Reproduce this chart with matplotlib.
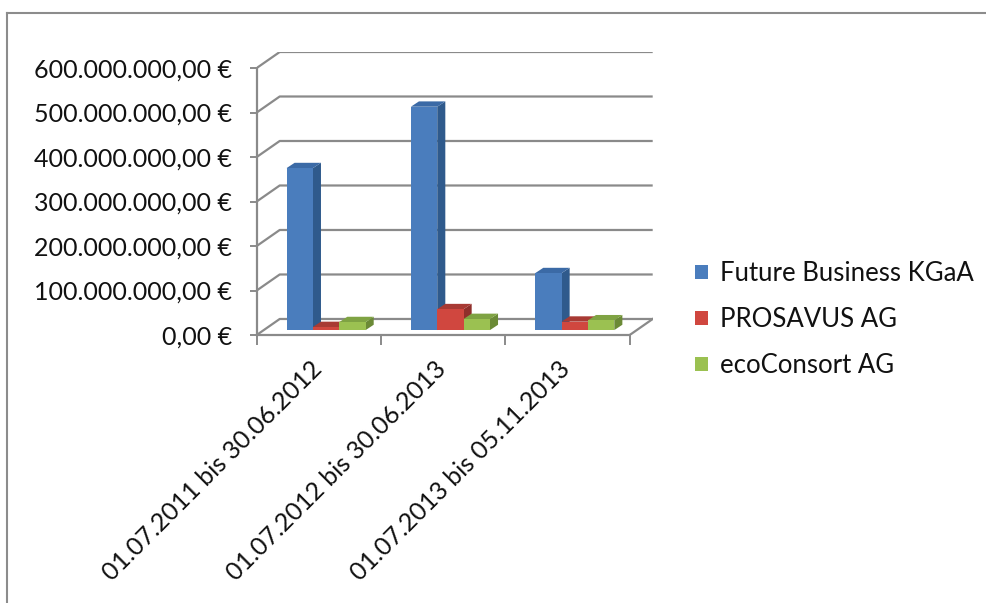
import matplotlib

matplotlib.use("Agg")
import matplotlib.pyplot as plt
import matplotlib.transforms as mtransforms
from matplotlib.lines import Line2D
from matplotlib.patches import Polygon, Rectangle

categories = ["01.07.2011 bis 30.06.2012", "01.07.2012 bis 30.06.2013", "01.07.2013 bis 05.11.2013"]
series_names = ["Future Business KGaA", "PROSAVUS AG", "ecoConsort AG"]
future_business = [364e6, 502e6, 128e6]
prosavus = [7e6, 47e6, 19e6]
ecoconsort = [18e6, 25e6, 22e6]
y_ticks = [0, 100e6, 200e6, 300e6, 400e6, 500e6, 600e6]
y_labels = ["0,00 €", "100.000.000,00 €", "200.000.000,00 €", "300.000.000,00 €",
            "400.000.000,00 €", "500.000.000,00 €", "600.000.000,00 €"]

# colours: front, side, top
colors = [
    ("#4a7dbd", "#2f5a8c", "#3b6aa6"),
    ("#d0473f", "#8f2f2b", "#a83a34"),
    ("#9bc151", "#6b8a36", "#7fa343"),
]

# fake 3D geometry in data units
wall_dx, wall_dy = 0.185, 36e6     # back wall offset
bar_dx, bar_dy = 0.065, 12e6        # bar depth
base_dx, base_dy = 0.0, 11e6        # bar base sits a bit behind the front
bar_w = 0.212
first_off = 0.24
grid_c = "#8a8a8a"
txt_c = "#111111"

plt.rcParams["font.family"] = ["Lato", "DejaVu Sans"]
fig = plt.figure(figsize=(9.86, 6.03), dpi=100)
W, H = 986, 603
ax = fig.add_axes([256.7 / W, (H - 335) / H, 396 / W, 283 / H])
ax.set_xlim(0, 3 + wall_dx)
ax.set_ylim(0, 600e6 + wall_dy)
ax.patch.set_visible(False)

# gridlines with side-wall diagonals
for v in y_ticks:
    ax.plot([0, wall_dx, 3 + wall_dx], [v, v + wall_dy, v + wall_dy],
            color=grid_c, lw=1.6, zorder=1, solid_capstyle="butt")
ax.plot([3, 3 + wall_dx], [0, wall_dy], color=grid_c, lw=1.6, zorder=1)

for s, vals in enumerate([future_business, prosavus, ecoconsort]):
    front, side, top = colors[s]
    for c, v in enumerate(vals):
        x0 = c + first_off + s * bar_w + base_dx
        y0 = base_dy
        z = 3 + s + c * 0.01
        ax.add_patch(Polygon([(x0 + bar_w, y0), (x0 + bar_w + bar_dx, y0 + bar_dy),
                              (x0 + bar_w + bar_dx, y0 + v + bar_dy), (x0 + bar_w, y0 + v)],
                             closed=True, facecolor=side, edgecolor="none", zorder=z))
        ax.add_patch(Polygon([(x0, y0 + v), (x0 + bar_dx, y0 + v + bar_dy),
                              (x0 + bar_w + bar_dx, y0 + v + bar_dy), (x0 + bar_w, y0 + v)],
                             closed=True, facecolor=top, edgecolor="none", zorder=z))
    xs = [c + first_off + s * bar_w + base_dx for c in range(3)]
    ax.bar(xs, vals, width=bar_w, bottom=base_dy, align="edge", color=front,
           edgecolor="none", zorder=3 + s + 0.05)

for sp in ["top", "right"]:
    ax.spines[sp].set_visible(False)
ax.spines["left"].set_bounds(0, 600e6)
ax.spines["bottom"].set_bounds(0, 3)
for sp in ["left", "bottom"]:
    ax.spines[sp].set_color(grid_c)
    ax.spines[sp].set_linewidth(1.6)

ax.set_yticks(y_ticks)
ax.set_yticklabels(y_labels, fontsize=18, color=txt_c)
ax.tick_params(axis="y", direction="out", length=5, width=1.4, color=grid_c, pad=13)
ax.set_xticks([0, 1, 2, 3])
ax.set_xticklabels([])
ax.tick_params(axis="x", which="major", direction="out", length=7, width=1.4, color=grid_c)
ax.set_xticks([0.5, 1.5, 2.5], minor=True)
ax.set_xticklabels(categories, minor=True, rotation=45, ha="right", va="top",
                   rotation_mode="anchor", fontsize=18, color=txt_c)
ax.tick_params(axis="x", which="minor", length=0, pad=16)
shift = mtransforms.ScaledTranslation(-9 / 100, 0, fig.dpi_scale_trans)
for lbl in ax.get_xticklabels(minor=True):
    lbl.set_transform(lbl.get_transform() + shift)

handles = [Rectangle((0, 0), 1, 1, facecolor=colors[i][0], edgecolor="none") for i in range(3)]
fig.legend(handles, series_names, loc="upper left", bbox_to_anchor=(672 / W, 1 - 238 / H),
           frameon=False, fontsize=18.5, handlelength=0.5, handleheight=0.5,
           handletextpad=0.45, labelspacing=0.82, labelcolor=txt_c)

# outer chart border
fig.add_artist(Line2D([7 / W, 1], [1 - 13 / H, 1 - 13 / H], color="#8c8c8c", lw=1.5))
fig.add_artist(Line2D([7 / W, 7 / W], [0, 1 - 13 / H], color="#8c8c8c", lw=1.5))

fig.savefig("out.png", dpi=100)
